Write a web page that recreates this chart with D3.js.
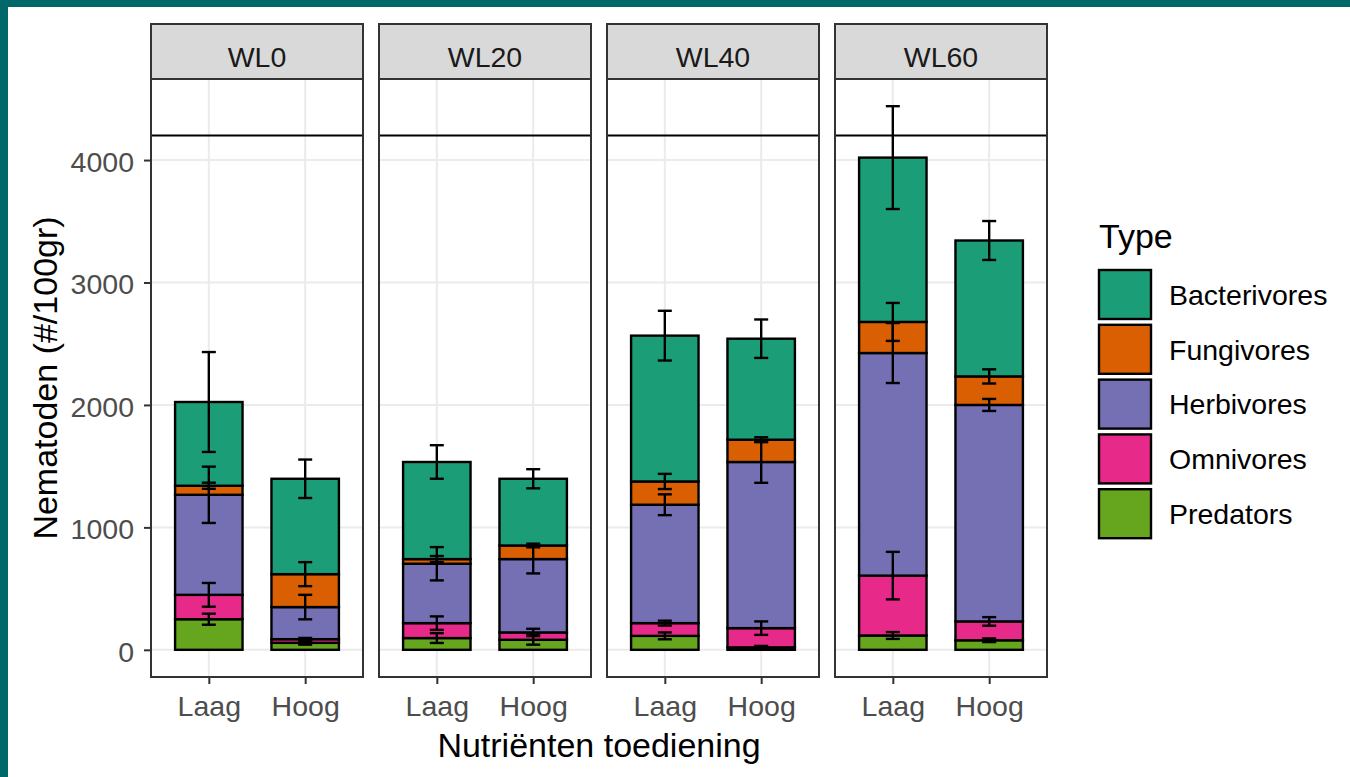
<!DOCTYPE html>
<html>
<head>
<meta charset="utf-8">
<script src="https://cdn.jsdelivr.net/npm/d3@7"></script>
<style>
  html, body { margin: 0; padding: 0; background: #ffffff; }
  svg { display: block; font-family: "Liberation Sans", Arial, sans-serif; }
</style>
</head>
<body>
<svg id="chart" width="1350" height="777"></svg>
<script>
// Water level facets and nutrient treatments on the x axis
const levels = ["WL0", "WL20", "WL40", "WL60"];
const categories = ["Laag", "Hoog"];
const types = ["Bacterivores", "Fungivores", "Herbivores", "Omnivores", "Predators"];
const colors = ["#1B9E77", "#D95F02", "#7570B3", "#E7298A", "#66A61E"];
const yTicks = [0, 1000, 2000, 3000, 4000];
const refLine = 4200;

// Mean counts per group, ordered WL0 Laag, WL0 Hoog, WL20 Laag, WL20 Hoog, ...
const bacterivores = [684, 779, 793, 545, 1191, 825, 1342, 1110];
const fungivores   = [74, 269, 38, 111, 190, 182, 254, 233];
const herbivores   = [817, 262, 485, 599, 967, 1357, 1818, 1768];
const omnivores    = [199, 30, 122, 60, 104, 157, 489, 154];
const predators    = [250, 57, 96, 82, 114, 20, 117, 78];

// Standard errors, same order
const bacterivoresSE = [408, 157, 137, 78, 203, 157, 420, 159];
const fungivoresSE   = [25, 98, 25, 15, 62, 20, 155, 58];
const herbivoresSE   = [230, 100, 136, 117, 85, 170, 245, 49];
const omnivoresSE    = [97, 10, 55, 30, 20, 55, 194, 35];
const predatorsSE    = [45, 15, 40, 40, 28, 12, 28, 15];

const means = [bacterivores, fungivores, herbivores, omnivores, predators];
const errors = [bacterivoresSE, fungivoresSE, herbivoresSE, omnivoresSE, predatorsSE];

// Build stacked rows: predators at the bottom, bacterivores on top
const rows = [];
levels.forEach((lv, li) => {
  categories.forEach((cat, ci) => {
    const idx = li * categories.length + ci;
    let cum = 0;
    for (let t = types.length - 1; t >= 0; t--) {
      const v = means[t][idx];
      rows.push({ level: lv, cat, type: types[t], color: colors[t],
                  y0: cum, y1: cum + v, se: errors[t][idx] });
      cum += v;
    }
  });
});

// Layout
const svg = d3.select("#chart");
const panelLeft = 151, panelW = 212, panelGap = 16;
const stripTop = 24, stripH = 55, plotTop = stripTop + stripH, plotBottom = 677;
const font = 28.5, titleFont = 34;
const lineW = 2.4;

// y scale with 5% expansion of the data range (bars, error bars, reference line)
const yMax = d3.max([d3.max(rows, d => d.y1 + d.se), refLine]);
const yMin = Math.min(0, d3.min(rows, d => d.y1 - d.se));
const pad = (yMax - yMin) * 0.05;
const y = d3.scaleLinear().domain([yMin - pad, yMax + pad]).range([plotBottom, plotTop]);

// Page frame
svg.append("rect").attr("x", 0).attr("y", 0).attr("width", 1350).attr("height", 777).attr("fill", "#ffffff");
svg.append("rect").attr("x", 0).attr("y", 0).attr("width", 1350).attr("height", 7).attr("fill", "#006868");
svg.append("rect").attr("x", 0).attr("y", 0).attr("width", 8).attr("height", 777).attr("fill", "#006868");

levels.forEach((lv, li) => {
  const x0 = panelLeft + li * (panelW + panelGap);
  const x = d3.scalePoint().domain(categories).range([x0, x0 + panelW]).padding(0.6);
  const step = x.step();
  const barW = step * 0.7, capW = 14;
  const g = svg.append("g");

  // grid
  g.selectAll("line.hgrid").data(yTicks).join("line")
    .attr("x1", x0).attr("x2", x0 + panelW)
    .attr("y1", d => y(d)).attr("y2", d => y(d))
    .attr("stroke", "#ebebeb").attr("stroke-width", 2);
  g.selectAll("line.vgrid").data(categories).join("line")
    .attr("x1", d => x(d)).attr("x2", d => x(d))
    .attr("y1", plotTop).attr("y2", plotBottom)
    .attr("stroke", "#ebebeb").attr("stroke-width", 2);

  // reference line
  g.append("line").attr("x1", x0).attr("x2", x0 + panelW)
    .attr("y1", y(refLine)).attr("y2", y(refLine))
    .attr("stroke", "#000").attr("stroke-width", 2);

  const data = rows.filter(r => r.level === lv);

  // stacked bars
  g.selectAll("rect.bar").data(data).join("rect")
    .attr("x", d => x(d.cat) - barW / 2)
    .attr("width", barW)
    .attr("y", d => y(d.y1))
    .attr("height", d => y(d.y0) - y(d.y1))
    .attr("fill", d => d.color)
    .attr("stroke", "#000").attr("stroke-width", lineW);

  // error bars at the top of each segment
  const eb = g.selectAll("g.eb").data(data).join("g");
  eb.append("line")
    .attr("x1", d => x(d.cat)).attr("x2", d => x(d.cat))
    .attr("y1", d => y(d.y1 - d.se)).attr("y2", d => y(d.y1 + d.se))
    .attr("stroke", "#000").attr("stroke-width", lineW);
  eb.append("line")
    .attr("x1", d => x(d.cat) - capW / 2).attr("x2", d => x(d.cat) + capW / 2)
    .attr("y1", d => y(d.y1 + d.se)).attr("y2", d => y(d.y1 + d.se))
    .attr("stroke", "#000").attr("stroke-width", lineW);
  eb.append("line")
    .attr("x1", d => x(d.cat) - capW / 2).attr("x2", d => x(d.cat) + capW / 2)
    .attr("y1", d => y(d.y1 - d.se)).attr("y2", d => y(d.y1 - d.se))
    .attr("stroke", "#000").attr("stroke-width", lineW);

  // panel border
  g.append("rect").attr("x", x0).attr("y", plotTop).attr("width", panelW).attr("height", plotBottom - plotTop)
    .attr("fill", "none").attr("stroke", "#333333").attr("stroke-width", 2);

  // strip
  g.append("rect").attr("x", x0).attr("y", stripTop).attr("width", panelW).attr("height", stripH)
    .attr("fill", "#d9d9d9").attr("stroke", "#333333").attr("stroke-width", 2);
  g.append("text").attr("x", x0 + panelW / 2).attr("y", stripTop + 42.5)
    .attr("text-anchor", "middle").attr("font-size", font).attr("fill", "#1a1a1a").text(lv);

  // x axis
  const xa = g.append("g").attr("transform", `translate(0,${plotBottom})`)
    .call(d3.axisBottom(x).tickSize(7).tickPadding(12));
  xa.select(".domain").remove();
  xa.selectAll(".tick line").attr("stroke", "#333333").attr("stroke-width", 2);
  xa.selectAll(".tick text").attr("font-size", font).attr("fill", "#4d4d4d")
    .attr("font-family", "Liberation Sans, Arial, sans-serif");

  // y axis on the first panel only
  if (li === 0) {
    const ya = g.append("g").attr("transform", `translate(${x0},0)`)
      .call(d3.axisLeft(y).tickValues(yTicks).tickSize(7).tickPadding(10).tickFormat(d3.format("d")));
    ya.select(".domain").remove();
    ya.selectAll(".tick line").attr("stroke", "#333333").attr("stroke-width", 2);
    ya.selectAll(".tick text").attr("font-size", font).attr("fill", "#4d4d4d")
      .attr("font-family", "Liberation Sans, Arial, sans-serif").attr("dy", "0.4em");
  }
});

// axis titles
const plotsRight = panelLeft + levels.length * panelW + (levels.length - 1) * panelGap;
svg.append("text").attr("x", (panelLeft + plotsRight) / 2).attr("y", 757)
  .attr("text-anchor", "middle").attr("font-size", titleFont).attr("fill", "#000").text("Nutriënten toediening");
svg.append("text").attr("transform", `translate(57,${(plotTop + plotBottom) / 2}) rotate(-90)`)
  .attr("text-anchor", "middle").attr("font-size", titleFont).attr("fill", "#000").text("Nematoden (#/100gr)");

// legend
const lg = svg.append("g").attr("transform", "translate(1099,0)");
lg.append("text").attr("x", 0).attr("y", 248).attr("font-size", titleFont).attr("fill", "#000").text("Type");
const items = lg.selectAll("g.item").data(types).join("g")
  .attr("transform", (d, i) => `translate(0,${270 + i * 54.8})`);
items.append("rect").attr("width", 52).attr("height", 49)
  .attr("fill", (d, i) => colors[i]).attr("stroke", "#000").attr("stroke-width", lineW);
items.append("text").attr("x", 70).attr("y", 24.5).attr("dy", "0.36em")
  .attr("font-size", font).attr("fill", "#000").text(d => d);
</script>
</body>
</html>
